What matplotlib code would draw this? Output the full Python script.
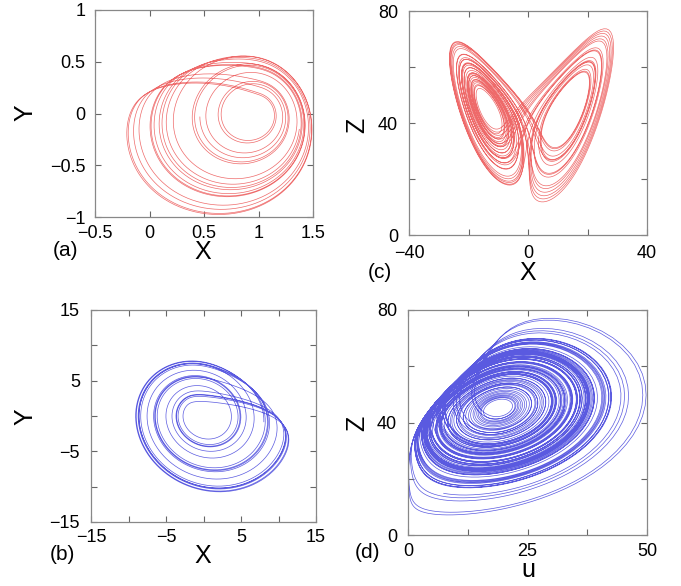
import numpy as np
import matplotlib
matplotlib.use("Agg")
import matplotlib.pyplot as plt

# ---- system parameters ----
lorenz_params = [16.0, 45.92, 4.0]           # sigma, r, b
lorenz_start_c = [-10.0, -10.0, 50.0]
lorenz_start_d = [1.0, 1.0, 30.0]
lorenz_dt = 0.004
lorenz_steps_c = 5500
lorenz_steps_d = 10000
lorenz_transient = 5000

rossler_b_params = [0.2, 0.2, 5.7]           # a, b, c  -> panel (b)
rossler_a_params = [0.15, 0.2, 10.0]         # a, b, c  -> panel (a)
rossler_start = [1.0, 1.0, 0.0]
rossler_dt = 0.02
rossler_steps = 5000
rossler_transient = 5000

# panel (a) view of its Rossler-type flow
view_a_center = [0.95, 0.0]
view_a_rot_deg = -32.0
view_a_scale = [0.049, 0.054]
view_a_warp = [0.0008, 0.00065]

# axis ranges and ticks
xlim_a = [-0.5, 1.5]; ylim_a = [-1, 1]
xt_a = [-0.5, 0, 0.5, 1, 1.5]; yt_a = [-1, -0.5, 0, 0.5, 1]
xl_a = ["\u22120.5", "0", "0.5", "1", "1.5"]
yl_a = ["\u22121", "\u22120.5", "0", "0.5", "1"]
xlim_b = [-15, 15]; ylim_b = [-15, 15]
xt_b = [-15, -10, -5, 0, 5, 10, 15]; yt_b = [-15, -10, -5, 0, 5, 10, 15]
xl_b = ["\u221215", "", "\u22125", "", "5", "", "15"]
yl_b = ["\u221215", "", "\u22125", "", "5", "", "15"]
xlim_c = [-40, 40]; ylim_c = [0, 80]
xt_c = [-40, -20, 0, 20, 40]; yt_c = [0, 20, 40, 60, 80]
xl_c = ["\u221240", "", "0", "", "40"]; yl_c = ["0", "", "40", "", "80"]
xlim_d = [0, 50]; ylim_d = [0, 80]
xt_d = [0, 12.5, 25, 37.5, 50]; yt_d = [0, 20, 40, 60, 80]
xl_d = ["0", "", "25", "", "50"]; yl_d = ["0", "", "40", "", "80"]

RED = "#ee6a6a"
BLUE = "#5a5ae0"


def lorenz(s, p):
    x, y, z = s
    return np.array([p[0] * (y - x), x * (p[1] - z) - y, x * y - p[2] * z])


def rossler(s, p):
    x, y, z = s
    return np.array([-y - z, x + p[0] * y, p[1] + z * (x - p[2])])


def integrate(f, s0, p, dt, n, skip):
    s = np.array(s0, dtype=float)
    out = np.empty((n, 3))
    for i in range(skip + n):
        k1 = f(s, p)
        k2 = f(s + 0.5 * dt * k1, p)
        k3 = f(s + 0.5 * dt * k2, p)
        k4 = f(s + dt * k3, p)
        s = s + dt / 6.0 * (k1 + 2 * k2 + 2 * k3 + k4)
        if i >= skip:
            out[i - skip] = s
    return out


lor_c = integrate(lorenz, lorenz_start_c, lorenz_params, lorenz_dt,
                  lorenz_steps_c, lorenz_transient)
lor_d = integrate(lorenz, lorenz_start_d, lorenz_params, lorenz_dt,
                  lorenz_steps_d, 3000)
ros_b = integrate(rossler, rossler_start, rossler_b_params, rossler_dt,
                  rossler_steps, rossler_transient)
ros_a = integrate(rossler, rossler_start, rossler_a_params, rossler_dt,
                  rossler_steps, rossler_transient)

# panel (a): mirrored, rotated and warped view of its Rossler-type flow
th = np.deg2rad(view_a_rot_deg)
mx = -ros_a[:, 0]
my = ros_a[:, 1]
u = mx * np.cos(th) - my * np.sin(th)
v = mx * np.sin(th) + my * np.cos(th)
r2 = u ** 2 + v ** 2
Xa = view_a_center[0] + view_a_scale[0] * u - view_a_warp[0] * r2
Ya = view_a_center[1] + view_a_scale[1] * v - view_a_warp[1] * r2

ud = np.sqrt(lor_d[:, 0] ** 2 + lor_d[:, 1] ** 2)

plt.rcParams["font.family"] = ["Liberation Sans", "DejaVu Sans"]

W, H = 681, 586
fig = plt.figure(figsize=(W / 100, H / 100), dpi=100)


def axes_px(x0, x1, y0, y1):
    return fig.add_axes([x0 / W, 1 - y1 / H, (x1 - x0) / W, (y1 - y0) / H])


def style(ax, xlim, ylim, xt, yt, xl, yl, padx=4, pady=6):
    ax.set_xlim(xlim); ax.set_ylim(ylim)
    ax.set_xticks(xt); ax.set_yticks(yt)
    ax.set_xticklabels(xl)
    ax.set_yticklabels(yl)
    ax.tick_params(direction="in", top=True, right=True, length=4,
                   width=0.8, color="#666666", labelsize=13)
    ax.tick_params(axis="x", pad=padx)
    ax.tick_params(axis="y", pad=pady)
    for sp in ax.spines.values():
        sp.set_color("#888888")
        sp.set_linewidth(0.9)


ax_a = axes_px(95, 313, 10, 217)
ax_a.plot(Xa, Ya, color=RED, lw=0.5)
style(ax_a, xlim_a, ylim_a, xt_a, yt_a, xl_a, yl_a, padx=6, pady=7)

ax_c = axes_px(409, 647, 11, 235)
ax_c.plot(lor_c[:, 0], lor_c[:, 2], color=RED, lw=0.5)
style(ax_c, xlim_c, ylim_c, xt_c, yt_c, xl_c, yl_c, padx=7, pady=8)

ax_b = axes_px(91, 316, 310, 522)
ax_b.plot(ros_b[:, 0], ros_b[:, 1], color=BLUE, lw=0.5)
style(ax_b, xlim_b, ylim_b, xt_b, yt_b, xl_b, yl_b, padx=5, pady=8)

ax_d = axes_px(408, 647, 310, 535)
ax_d.plot(ud, lor_d[:, 2], color=BLUE, lw=0.5)
style(ax_d, xlim_d, ylim_d, xt_d, yt_d, xl_d, yl_d, padx=6, pady=8)


def ftext(x, y, s, size, rot=0):
    fig.text(x / W, 1 - y / H, s, fontsize=size, rotation=rot,
             ha="center", va="center")


ftext(203, 252, "X", 18)
ftext(25, 113, "Y", 18, 90)
ftext(65, 251, "(a)", 15)

ftext(528, 273, "X", 18)
ftext(357, 125, "Z", 18, 90)
ftext(380, 272, "(c)", 15)

ftext(203, 556, "X", 18)
ftext(25, 417, "Y", 18, 90)
ftext(62, 554, "(b)", 15)

ftext(528, 570, "u", 18)
ftext(357, 423, "Z", 18, 90)
ftext(368, 552, "(d)", 15)

fig.savefig("out.png", dpi=100)
